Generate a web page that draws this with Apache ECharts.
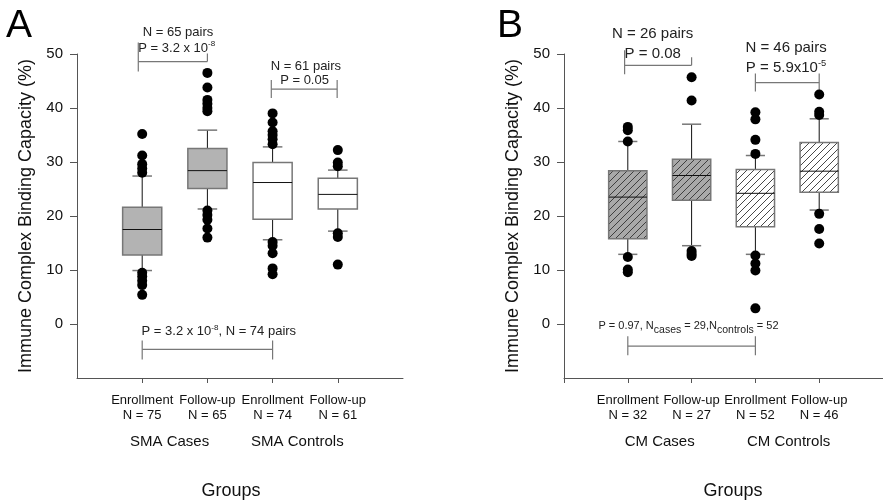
<!DOCTYPE html>
<html>
<head>
<meta charset="utf-8">
<script src="https://cdn.jsdelivr.net/npm/echarts@6/dist/echarts.min.js"></script>
<style>
html, body { margin: 0; padding: 0; background: #fff; }
#main { width: 883px; height: 500px; }
</style>
</head>
<body>
<div id="main"></div>
<script>
// x positions of the four boxes in each panel
var boxX = [1, 2, 3, 4];
var smaLabels = ['Enrollment\nN = 75', 'Follow-up\nN = 65', 'Enrollment\nN = 74', 'Follow-up\nN = 61'];
var cmLabels = ['Enrollment\nN = 32', 'Follow-up\nN = 27', 'Enrollment\nN = 52', 'Follow-up\nN = 46'];
var yTicks = [0, 10, 20, 30, 40, 50];

// [low whisker, Q1, median, Q3, high whisker]
var smaBoxes = [
    [9.9, 12.8, 17.5, 21.6, 27.4],
    [21.3, 25.1, 28.4, 32.5, 35.9],
    [15.6, 19.4, 26.2, 29.9, 32.8],
    [17.2, 21.3, 24.0, 27.0, 28.5]
];
var smaOutliers = [
    [35.2, 31.2, 29.6, 28.8, 28.0, 9.5, 8.8, 8.0, 7.2, 5.4],
    [46.5, 43.8, 41.5, 40.8, 40.0, 39.4, 21.0, 20.2, 19.3, 17.7, 16.0],
    [39.0, 37.3, 35.7, 35.0, 34.2, 33.3, 15.2, 14.5, 13.1, 10.3, 9.2],
    [32.2, 29.9, 29.2, 16.8, 16.1, 11.0]
];
var cmBoxes = [
    [12.9, 15.8, 23.5, 28.4, 33.8],
    [14.5, 22.9, 27.5, 30.5, 37.0],
    [12.9, 18.0, 24.2, 28.6, 31.2],
    [21.1, 24.4, 28.3, 33.6, 38.0]
];
var cmOutliers = [
    [36.5, 35.9, 33.8, 12.4, 10.1, 9.6],
    [45.7, 41.4, 13.5, 13.0, 12.6],
    [39.2, 37.9, 34.1, 31.5, 12.7, 11.2, 9.9, 2.9],
    [42.5, 39.3, 38.7, 20.4, 17.6, 14.9]
];

var FONT = '"Liberation Sans", Arial, Helvetica, sans-serif';

//斜线填充
function hatch(bg) {
    var c = document.createElement('canvas');
    c.width = 7; c.height = 7;
    var g = c.getContext('2d');
    g.fillStyle = bg;
    g.fillRect(0, 0, 7, 7);
    g.strokeStyle = '#333';
    g.lineWidth = 0.9;
    g.beginPath();
    g.moveTo(-1, 8); g.lineTo(8, -1);
    g.moveTo(-1, 1); g.lineTo(1, -1);
    g.moveTo(6, 8); g.lineTo(8, 6);
    g.stroke();
    return { image: c, repeat: 'repeat' };
}

var smaFills = ['#b3b3b3', '#b3b3b3', '#ffffff', '#ffffff'];
var cmFills = [hatch('#a9a9a9'), hatch('#a9a9a9'), hatch('#ffffff'), hatch('#ffffff')];

function boxRender(fills) {
    return function (params, api) {
        var x = api.value(0);
        var lo = api.coord([x, api.value(1)]);
        var q1 = api.coord([x, api.value(2)]);
        var md = api.coord([x, api.value(3)]);
        var q3 = api.coord([x, api.value(4)]);
        var hi = api.coord([x, api.value(5)]);
        var bw = api.size([0.6, 0])[0];
        var cw = api.size([0.3, 0])[0];
        var cx = lo[0];
        var wl = { stroke: '#111', lineWidth: 1 };
        var cap = { stroke: '#777', lineWidth: 1.5 };
        return {
            type: 'group',
            children: [
                { type: 'line', shape: { x1: cx, y1: hi[1], x2: cx, y2: q3[1] }, style: wl },
                { type: 'line', shape: { x1: cx, y1: q1[1], x2: cx, y2: lo[1] }, style: wl },
                { type: 'line', shape: { x1: cx - cw / 2, y1: hi[1], x2: cx + cw / 2, y2: hi[1] }, style: cap },
                { type: 'line', shape: { x1: cx - cw / 2, y1: lo[1], x2: cx + cw / 2, y2: lo[1] }, style: cap },
                { type: 'rect', shape: { x: cx - bw / 2, y: q3[1], width: bw, height: q1[1] - q3[1] },
                  style: { fill: fills[params.dataIndex], stroke: '#777', lineWidth: 1.5 } },
                { type: 'line', shape: { x1: cx - bw / 2, y1: md[1], x2: cx + bw / 2, y2: md[1] }, style: wl }
            ]
        };
    };
}

function boxData(boxes) {
    return boxes.map(function (b, i) { return [boxX[i]].concat(b); });
}
function outData(outs) {
    var d = [];
    outs.forEach(function (list, i) {
        list.forEach(function (v) { d.push([boxX[i], v]); });
    });
    return d;
}

function xAxisCfg(grid, labels, ticks) {
    return {
        type: 'value', gridIndex: grid, min: 0, max: 5, interval: 1,
        splitLine: { show: false },
        axisLine: { show: true, onZero: false, lineStyle: { color: '#555', width: 1 } },
        axisTick: { show: true, customValues: ticks, length: 5, lineStyle: { color: '#555' } },
        axisLabel: {
            customValues: boxX, margin: 15, fontSize: 13, lineHeight: 15,
            color: '#111', fontFamily: FONT,
            formatter: function (v) { return labels[Math.round(v) - 1]; }
        }
    };
}
function yAxisCfg(grid) {
    return {
        type: 'value', gridIndex: grid, min: -10, max: 50, interval: 10,
        name: 'Immune Complex Binding Capacity (%)',
        nameLocation: 'middle', nameGap: 42,
        nameTextStyle: { fontSize: 18, color: '#111', fontFamily: FONT },
        splitLine: { show: false },
        axisLine: { show: true, onZero: false, lineStyle: { color: '#555', width: 1 } },
        axisTick: { show: true, customValues: yTicks, length: 7, lineStyle: { color: '#555' } },
        axisLabel: { customValues: yTicks, margin: 14, fontSize: 15, color: '#111', fontFamily: FONT }
    };
}

var option = {
    animation: false,
    backgroundColor: '#fff',
    grid: [
        { left: 77, top: 54, width: 326, height: 324 },
        { left: 564, top: 54, width: 325, height: 324 }
    ],
    xAxis: [xAxisCfg(0, smaLabels, [1, 2, 3, 4]), xAxisCfg(1, cmLabels, [0, 1, 2, 3, 4])],
    yAxis: [yAxisCfg(0), yAxisCfg(1)],
    series: [
        { type: 'custom', xAxisIndex: 0, yAxisIndex: 0, renderItem: boxRender(smaFills),
          data: boxData(smaBoxes), encode: { x: 0, y: [1, 2, 3, 4, 5] }, z: 2 },
        { type: 'scatter', xAxisIndex: 0, yAxisIndex: 0, data: outData(smaOutliers),
          symbolSize: 10, itemStyle: { color: '#000', opacity: 1 }, z: 3 },
        { type: 'custom', xAxisIndex: 1, yAxisIndex: 1, renderItem: boxRender(cmFills),
          data: boxData(cmBoxes), encode: { x: 0, y: [1, 2, 3, 4, 5] }, z: 2 },
        { type: 'scatter', xAxisIndex: 1, yAxisIndex: 1, data: outData(cmOutliers),
          symbolSize: 10, itemStyle: { color: '#000', opacity: 1 }, z: 3 }
    ]
};

var chart = echarts.init(document.getElementById('main'), null, { renderer: 'canvas' });
chart.setOption(option);

// brackets: grid, x from, x to, y value, left tick [up, down], right tick [up, down]
var brackets = [
    [0, 0.94, 2.0, 48.6, [19, 10], [8, 0]],
    [0, 2.98, 3.99, 43.5, [9, 9], [9, 9]],
    [0, 1.0, 3.0, -4.7, [9, 10], [9, 10]],
    [1, 0.95, 2.0, 47.9, [15, 9], [8, 0]],
    [1, 3.0, 4.0, 44.7, [9, 9], [9, 9]],
    [1, 1.0, 3.0, -4.1, [10, 9], [10, 9]]
];
// texts: grid, x, y, text, size, align
var notes = [
    [0, 1.55, 54.1, '{m|N = 65 pairs}', 13, 'center'],
    [0, 1.53, 51.3, '{m|P = 3.2 x 10}{sup|-8}', 13, 'center'],
    [0, 3.51, 47.8, '{m|N = 61 pairs}', 13, 'center'],
    [0, 3.49, 45.2, '{m|P = 0.05}', 13, 'center'],
    [0, 0.99, -1.2, '{m|P = 3.2 x 10}{sup|-8}{m|, N = 74 pairs}', 13, 'left'],
    [1, 1.39, 53.9, '{m|N = 26 pairs}', 15, 'center'],
    [1, 1.39, 50.3, '{m|P = 0.08}', 15, 'center'],
    [1, 3.48, 51.3, '{m|N = 46 pairs}', 15, 'center'],
    [1, 3.48, 47.6, '{m|P = 5.9x10}{sup|-5}', 15, 'center'],
    [1, 0.54, -0.7, '{b|P = 0.97, N}{sub|cases}{b| = 29,N}{sub|controls}{b| = 52}', 11, 'left']
];
// group names under the axis
var groups = [
    [0, 1.42, 'SMA Cases'], [0, 3.38, 'SMA Controls'],
    [1, 1.5, 'CM Cases'], [1, 3.52, 'CM Controls']
];

var gfx = [];
brackets.forEach(function (b) {
    var p1 = chart.convertToPixel({ gridIndex: b[0] }, [b[1], b[3]]);
    var p2 = chart.convertToPixel({ gridIndex: b[0] }, [b[2], b[3]]);
    var st = { stroke: '#777', lineWidth: 1.2 };
    gfx.push({ type: 'line', shape: { x1: p1[0], y1: p1[1], x2: p2[0], y2: p2[1] }, style: st });
    gfx.push({ type: 'line', shape: { x1: p1[0], y1: p1[1] - b[4][0], x2: p1[0], y2: p1[1] + b[4][1] }, style: st });
    gfx.push({ type: 'line', shape: { x1: p2[0], y1: p2[1] - b[5][0], x2: p2[0], y2: p2[1] + b[5][1] }, style: st });
});
notes.forEach(function (n) {
    var p = chart.convertToPixel({ gridIndex: n[0] }, [n[1], n[2]]);
    var s = n[4];
    gfx.push({
        type: 'text', x: p[0], y: p[1],
        style: {
            text: n[3], align: n[5], verticalAlign: 'middle',
            fontFamily: FONT, fill: '#222',
            rich: {
                m: { fontSize: s, fontFamily: FONT, fill: '#222', verticalAlign: 'bottom', lineHeight: s + 2 },
                sup: { fontSize: s * 0.62, fontFamily: FONT, fill: '#222', verticalAlign: 'bottom', padding: [0, 0, s * 0.5, 0] },
                b: { fontSize: s, fontFamily: FONT, fill: '#222', verticalAlign: 'bottom', padding: [0, 0, 4, 0] },
                sub: { fontSize: s - 0.5, fontFamily: FONT, fill: '#222', verticalAlign: 'bottom' }
            }
        }
    });
});
groups.forEach(function (g) {
    var p = chart.convertToPixel({ gridIndex: g[0] }, [g[1], 0]);
    gfx.push({ type: 'text', x: p[0], y: 442,
        style: { text: g[2], align: 'center', verticalAlign: 'middle', fontSize: 15, fontFamily: FONT, fill: '#111' } });
});
gfx.push({ type: 'text', x: 231, y: 491, style: { text: 'Groups', align: 'center', verticalAlign: 'middle', fontSize: 18, fontFamily: FONT, fill: '#111' } });
gfx.push({ type: 'text', x: 733, y: 491, style: { text: 'Groups', align: 'center', verticalAlign: 'middle', fontSize: 18, fontFamily: FONT, fill: '#111' } });
gfx.push({ type: 'text', x: 6, y: 26, style: { text: 'A', verticalAlign: 'middle', fontSize: 39, fontFamily: FONT, fill: '#000' } });
gfx.push({ type: 'text', x: 497, y: 26, style: { text: 'B', verticalAlign: 'middle', fontSize: 39, fontFamily: FONT, fill: '#000' } });

chart.setOption({ graphic: gfx });
</script>
</body>
</html>
